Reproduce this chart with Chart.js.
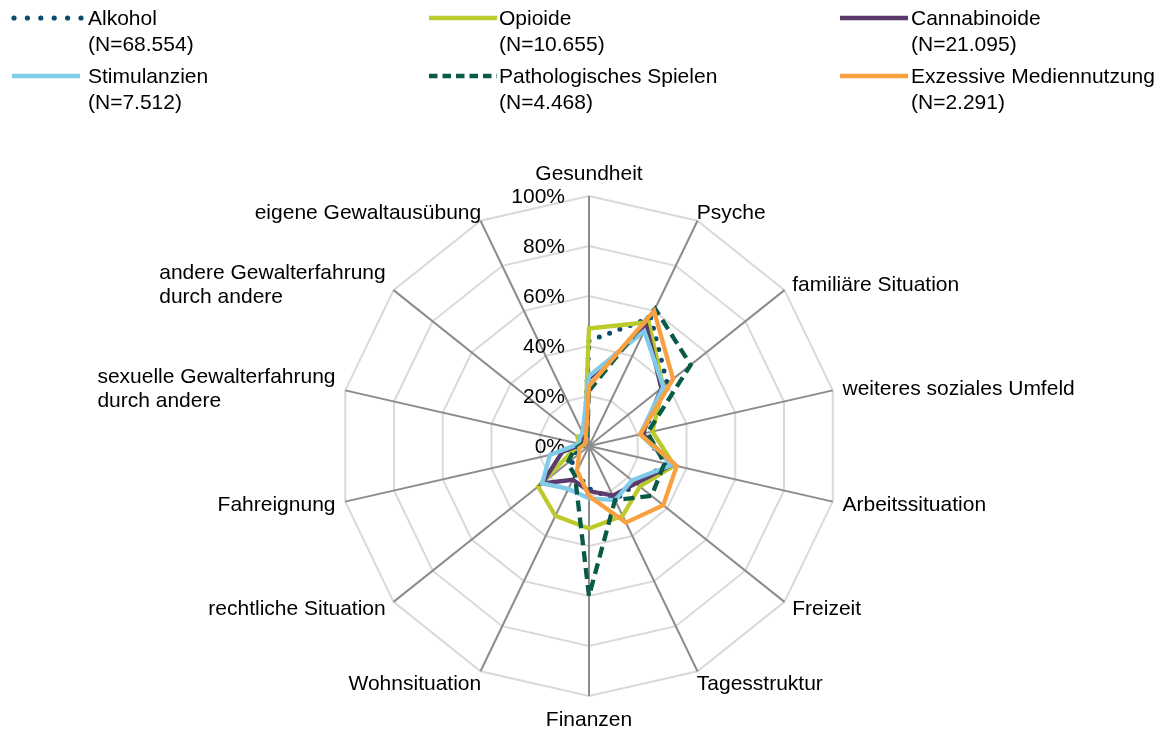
<!DOCTYPE html>
<html>
<head>
<meta charset="utf-8">
<script src="https://cdn.jsdelivr.net/npm/chart.js@4.4.1/dist/chart.umd.min.js"></script>
<style>
  html, body { margin: 0; padding: 0; background: #fff; }
  #wrap { position: relative; width: 1166px; height: 731px; overflow: hidden; }
  canvas { position: absolute; left: 0; top: 0; }
  .lg { position: absolute; font-family: "Liberation Sans", Arial, sans-serif; font-size: 21px; line-height: 26px; color: #000; white-space: nowrap; }
  .sw { position: absolute; }
</style>
</head>
<body>
<div id="wrap">
  <canvas id="c" width="1166" height="731"></canvas>
</div>
<script>
// ---- data ----
const categories = [
  'Gesundheit', 'Psyche', 'familiäre Situation', 'weiteres soziales Umfeld',
  'Arbeitssituation', 'Freizeit', 'Tagesstruktur', 'Finanzen', 'Wohnsituation',
  'rechtliche Situation', 'Fahreignung',
  ['sexuelle Gewalterfahrung', 'durch andere'],
  ['andere Gewalterfahrung', 'durch andere'],
  'eigene Gewaltausübung'
];
const seriesNames = ['Alkohol', 'Opioide', 'Cannabinoide', 'Stimulanzien', 'Pathologisches Spielen', 'Exzessive Mediennutzung'];
const seriesN = ['(N=68.554)', '(N=10.655)', '(N=21.095)', '(N=7.512)', '(N=4.468)', '(N=2.291)'];
const alkohol      = [42, 57, 40, 22, 32, 24, 24, 17, 12,  9,  5, 2, 3, 4];
const opioide      = [47, 55, 38, 26, 35, 26, 31, 33, 31, 26,  6, 4, 6, 4];
const cannabinoide = [27, 53, 37, 22, 34, 24, 22, 18, 15, 24, 11, 3, 3, 4];
const stimulanzien = [28, 51, 38, 21, 34, 22, 24, 21, 19, 24, 16, 4, 5, 6];
const spielen      = [22, 61, 52, 24, 31, 32, 24, 60, 13, 11,  6, 3, 2, 2];
const medien       = [24, 60, 43, 21, 36, 38, 34, 20, 11,  5,  4, 2, 2, 3];
const tickValues = [0, 20, 40, 60, 80, 100];
const tickLabels = ['0%', '20%', '40%', '60%', '80%', '100%'];

// ---- styles ----
const FONT_FAMILY = '"Liberation Sans", Arial, sans-serif';
const FONT_SIZE = 21;
const colors = ['#0d4b6e', '#bcca2c', '#5d3a6c', '#80cbea', '#0a5a48', '#f9a140'];
const dashes = [[0, 11], [], [], [], [11, 6], []];
const caps = ['round', 'butt', 'butt', 'butt', 'butt', 'butt'];
const widths = [5, 4.3, 4.3, 4.3, 4.3, 4.3];
const allData = [alkohol, opioide, cannabinoide, stimulanzien, spielen, medien];

const datasets = allData.map((d, i) => ({
  label: seriesNames[i],
  data: d,
  borderColor: colors[i],
  backgroundColor: 'transparent',
  borderWidth: widths[i],
  borderDash: dashes[i],
  borderCapStyle: caps[i],
  borderJoinStyle: 'miter',
  pointRadius: 0,
  pointHoverRadius: 0,
  fill: false,
  tension: 0,
  order: allData.length - i
}));

const labelPlugin = {
  id: 'customLabels',
  beforeDatasetsDraw(chart) {
    const s = chart.scales.r;
    const ctx = chart.ctx;
    ctx.save();
    ctx.font = FONT_SIZE + 'px ' + FONT_FAMILY;
    ctx.fillStyle = '#000';
    // tick labels
    ctx.textAlign = 'right';
    ctx.textBaseline = 'middle';
    tickValues.forEach((v, i) => {
      const d = s.getDistanceFromCenterForValue(v);
      ctx.fillText(tickLabels[i], s.xCenter - 24, s.yCenter - d + 1);
    });
    // category labels
    ctx.textAlign = 'left';
    const lh = 24;
    categories.forEach((lab, i) => {
      const lines = Array.isArray(lab) ? lab : [lab];
      const ang = s.getIndexAngle(i);
      const sn = Math.sin(ang), cs = Math.cos(ang);
      const p = s.getPointPosition(i, s.drawingArea + 10);
      const w = Math.max(...lines.map(l => ctx.measureText(l).width));
      let left;
      if (Math.abs(sn) < 0.1) left = p.x - w / 2;
      else if (sn > 0) left = p.x - (Math.abs(sn) < 0.6 ? 5 : 0);
      else left = p.x - w + (Math.abs(sn) < 0.6 ? 5 : 0);
      let cy = p.y;
      if (Math.abs(sn) < 0.1) cy = p.y - cs * 13;
      else if (Math.abs(sn) < 0.6 && cs < 0) cy = p.y + 3;
      const top = cy - (lines.length * lh) / 2;
      lines.forEach((l, k) => {
        ctx.fillText(l, left, top + lh * k + lh / 2 + 1);
      });
    });
    ctx.restore();
  }
};

new Chart(document.getElementById('c'), {
  type: 'radar',
  data: { labels: categories, datasets },
  options: {
    responsive: false,
    animation: false,
    events: [],
    plugins: { legend: { display: false }, tooltip: { enabled: false } },
    scales: {
      r: {
        min: 0,
        max: 100,
        ticks: { stepSize: 20, display: false },
        pointLabels: { display: false },
        grid: { color: '#d9d9d9', lineWidth: 2 },
        angleLines: { color: '#8c8c8c', lineWidth: 2 },
        afterFit(scale) {
          scale.xCenter = 589;
          scale.yCenter = 446;
          scale.drawingArea = 250;
        }
      }
    }
  },
  plugins: [labelPlugin]
});

// ---- legend (HTML) ----
const wrap = document.getElementById('wrap');
const colLineX = [10, 427, 838];
const colTextX = [88, 499, 911];
const rowY = [18, 76];
seriesNames.forEach((name, i) => {
  const col = i % 3, row = Math.floor(i / 3);
  const svgNS = 'http://www.w3.org/2000/svg';
  const svg = document.createElementNS(svgNS, 'svg');
  svg.setAttribute('class', 'sw');
  svg.setAttribute('width', '74');
  svg.setAttribute('height', '12');
  svg.style.left = colLineX[col] + 'px';
  svg.style.top = (rowY[row] - 6) + 'px';
  const isDot = dashes[i].length && dashes[i][0] === 0;
  if (isDot) {
    for (let k = 0; k < 6; k++) {
      const c = document.createElementNS(svgNS, 'circle');
      c.setAttribute('cx', String(4 + k * 13.4));
      c.setAttribute('cy', '6');
      c.setAttribute('r', '2.6');
      c.setAttribute('fill', colors[i]);
      svg.appendChild(c);
    }
  } else {
    const ln = document.createElementNS(svgNS, 'line');
    ln.setAttribute('x1', '2');
    ln.setAttribute('x2', '70');
    ln.setAttribute('y1', '6');
    ln.setAttribute('y2', '6');
    ln.setAttribute('stroke', colors[i]);
    ln.setAttribute('stroke-width', '4.5');
    if (dashes[i].length) ln.setAttribute('stroke-dasharray', '8.5 5');
    svg.appendChild(ln);
  }
  wrap.appendChild(svg);
  const t = document.createElement('div');
  t.className = 'lg';
  t.style.left = colTextX[col] + 'px';
  t.style.top = (rowY[row] - 13) + 'px';
  t.innerHTML = name + '<br>' + seriesN[i];
  wrap.appendChild(t);
});
</script>
</body>
</html>
